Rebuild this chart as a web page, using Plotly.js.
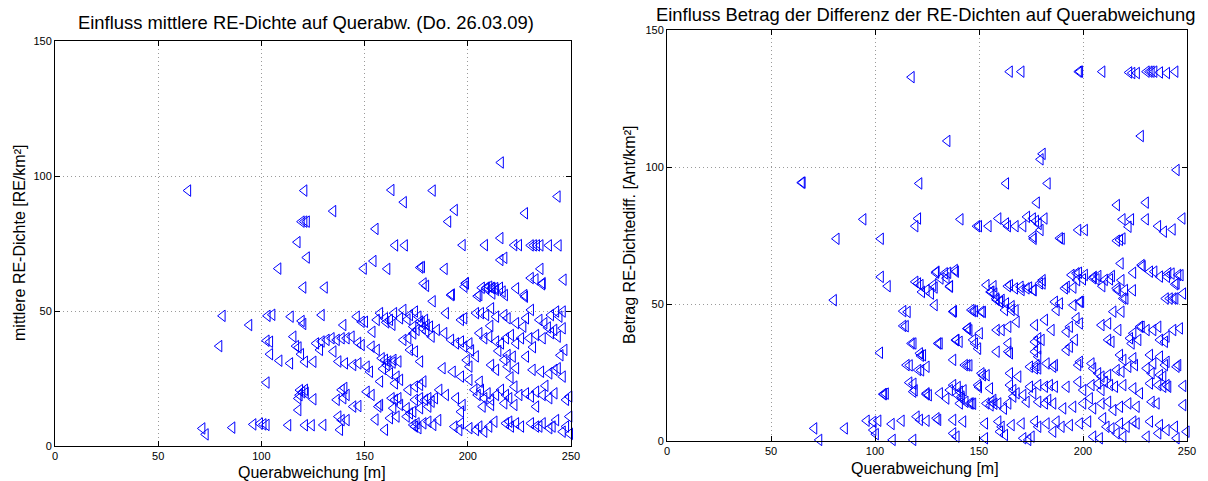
<!DOCTYPE html>
<html>
<head>
<meta charset="utf-8">
<script src="https://cdn.plot.ly/plotly-3.0.1.min.js"></script>
<style>
html,body{margin:0;padding:0;background:#fff;}
#chart{width:1208px;height:481px;}
</style>
</head>
<body>
<div id="chart"></div>
<script>
// ---------- DATA ----------
const xTicks = [0, 50, 100, 150, 200, 250];
const yTicks = [0, 50, 100, 150];

const titleLeft = "Einfluss mittlere RE-Dichte auf Querabw. (Do. 26.03.09)";
const titleRight = "Einfluss Betrag der Differenz der RE-Dichten auf Querabweichung";
const xLabel = "Querabweichung [m]";
const yLabelLeft = "mittlere RE-Dichte [RE/km²]";
const yLabelRight = "Betrag RE-Dichtediff. [Ant/km²]";

// Left chart: [Querabweichung, mittlere RE-Dichte]
const leftUpper = [[64.5,94.6],[216,105],[120.8,94.6],[163,94.8],[183,94.6],[243.5,92.4],[169,90.3],[134.8,87],[193.7,87.4],[227.7,86.2],[119.5,83.1],[120.8,83.1],[122,83.1],[190.5,83.1],[155.3,80.4],[117.5,75.5],[164.8,74.3],[169.5,74.3],[197.5,74.4],[208.3,74.4],[215.8,77],[222.5,74.4],[224.8,74.4],[230.5,74.3],[232,74.3],[233.5,74.3],[235.2,74.3],[239.3,74.3],[244,74.3],[122,69.8],[215.8,68.9],[217.7,69.7],[108.2,65.7],[149.6,65.7],[154.3,68.5],[161,65.6],[177,66.1],[177.8,66.3],[188.8,65.6],[235.2,65.6],[230.5,62.2],[232.8,61.7],[236,59.9],[246.4,61.6],[120.3,58.7],[130.7,58.7],[178.6,60.2],[179.8,59.3],[183,53.6],[192.3,56.1],[199,60.2],[198.4,59],[206.8,58.6],[209.2,58.7],[211.6,58.6],[213.3,58.5],[215.6,58.6],[218,55.9],[223.4,58.4],[227.7,55.3],[204.8,55.5],[211.9,56.5],[208.8,58.4],[236.3,60.3],[191.9,55.9],[205.6,55.9]];
const leftLowLeft = [[81.2,48.2],[94.1,44.8],[79.6,37],[103,48.2],[105.3,48.6],[114.2,47.9],[119.5,46.3],[120.3,45.2],[115.5,40.5],[116.8,37],[118,36.5],[102.5,39],[104.2,38.6],[104.2,34],[108.7,31.6],[113.9,30.6],[119.2,34],[121.1,31.2],[125.2,31.2],[102.5,23.5],[118.7,20.7],[121.5,19.7],[117.9,17.6],[125.2,17.3],[117.9,13.3],[71.4,6.5],[73,4.3],[85.9,6.8],[96.1,8],[99.3,8.3],[101,8],[102.5,7.8],[113,7.7],[121.1,7.7],[124.4,7.7]];
const leftLowMid = [[129.2,48.5],[139.7,44.8],[146.2,47.9],[148.6,46],[150.2,46],[157.5,49.2],[159.9,47.3],[162.3,46.7],[164.3,49.2],[167.2,47.3],[168.8,50.4],[155.9,46.7],[172,48.5],[174.4,49.8],[176.1,47.9],[176.9,46.1],[177.7,45.5],[179.3,46.7],[180.1,44.8],[181.7,44.2],[173.6,44.2],[175.2,43],[168.8,39.3],[171.2,39.9],[173.6,41.7],[182.5,40.5],[185,43],[126.5,38],[129.2,38.7],[131.6,39.3],[134,39.9],[136.5,39.3],[138.9,39.9],[141.3,39.9],[143.7,40.5],[128.4,35.6],[134.9,35],[148.6,37.4],[153.4,36.8],[155.9,35.6],[172,35.6],[174.4,35],[137.3,31.3],[140.5,30.6],[144.5,30],[147,30.6],[151,29.4],[152.6,27.5],[158.3,32.5],[159.9,31.9],[161.5,31.3],[164,31.9],[166.4,31.3],[160.7,30],[176.9,31.3],[162.3,26.9],[165.5,25.7],[167.2,24.5],[157.5,23.9],[164.7,23.2],[121.1,20.8],[138.9,20.8],[139.7,17.7],[141.3,18.9],[144.5,14.6],[147,14.8],[136.5,17.1],[151,20.1],[153.4,18.9],[157.5,15.2],[156.7,14.6],[163.1,17.7],[164.7,17.1],[166.4,17.7],[167.2,15.2],[163.9,14],[171.2,20.8],[174.4,22],[178.5,23.9],[176.9,22.6],[174.4,17.1],[176.9,17.7],[179.3,17.1],[180.9,17.7],[182.5,16.4],[184.1,17.7],[170.4,14],[173.6,12.7],[176.9,14],[180.9,14.6],[130,7.8],[137.3,10.9],[138.9,9.6],[138.1,6],[141.3,9.6],[159.9,6],[162.3,10.3],[165.5,10.9],[170.4,10.9],[172,12.1],[173.6,7.8],[174.4,7.2],[175.2,8.4],[176.1,6.6],[178.5,8.4],[180.9,9],[183.3,7.8],[185.7,9.6],[160.5,45.8],[163.5,44.9],[178.2,43.6],[179.9,42.4],[170.8,46.9],[153.8,42.3],[146.9,38.2],[158.9,28.6],[118.5,18.8],[119.8,19.9],[163.6,30.9],[140.2,21.5],[155.3,9.8]];
const leftLowRight = [[199.1,60.3],[210.4,59],[212,58.4],[213.7,57.8],[216.9,57.2],[227.4,55.9],[189.4,49.2],[196.7,46.7],[198.3,47.3],[204,49.2],[206.4,49.2],[208.9,48.5],[211.3,51],[213.7,47.9],[217.7,48.5],[219.3,47.3],[223.4,45.5],[228.2,47.3],[230.6,50.4],[234.7,46.7],[237.1,45.5],[240.3,48.5],[242.8,49.8],[244.4,47.9],[246,49.8],[188.6,41.8],[191.9,39.3],[194.3,38],[196.7,38.7],[198.3,36.8],[200.8,38],[205.6,41.8],[208,39.9],[210.4,40.5],[213.7,38.7],[216.1,38],[218.5,39.9],[220.9,41.1],[223.4,38],[225.8,39.9],[229.8,39.9],[233.1,41.1],[236.3,39.9],[240.3,41.8],[241.9,43],[243.6,40.5],[246,43.6],[246.8,35.6],[187.8,28.8],[192.7,27.5],[196.7,25.7],[200.8,24.5],[200.8,29.4],[211.3,30],[213.7,28.2],[217.7,31.9],[219.3,29.4],[223.4,28.8],[228.2,33.1],[231.4,28.2],[235.5,27.5],[239.5,26.9],[242,28.2],[243.6,28.8],[246,25.7],[221.8,33.1],[219.3,33.7],[186.2,20.8],[189.4,18.9],[194.3,17.7],[197.5,15.2],[196.7,12.7],[203.2,20.8],[204.8,18.9],[206.4,20.8],[208,17.7],[209.6,19.5],[211.3,17.1],[213.7,18.9],[216.1,20.8],[218.5,18.9],[220.1,17.7],[222.6,22],[225,18.9],[228.2,19.5],[230.6,18.3],[233.1,20.1],[236.3,18.9],[239.5,17.7],[242,19.5],[247.6,17.1],[249.2,18.3],[207.2,14.6],[211.3,15.2],[217.7,15.8],[222.6,15.2],[233.1,14.6],[193.5,7.2],[195.9,5.9],[196.7,8.4],[200.8,6.6],[204,5.9],[205.6,7.2],[208,5.3],[210.4,7.2],[212.9,9],[218.5,8.4],[220.1,9],[220.9,7.2],[223.4,8.4],[225.8,7.2],[230.6,8.4],[233.1,7.2],[234.7,7.2],[236.3,8.4],[239.5,6.6],[241.1,7.2],[242.8,9.6],[246,5.3],[247.6,7.2],[249.2,10.9],[249.5,4.5],[201.6,35.4],[203.9,33.2],[199.5,31.8],[214.8,35.2],[210.9,44.5],[226.9,44.2],[238.8,43.9],[231.6,36.6],[244.9,33.6],[220.7,25.4],[237.6,22.3],[205.8,23.8]];

// Right chart: [Querabweichung, Betrag RE-Dichtediff.]
const rightUpper = [[117.6,132.8],[164.8,134.8],[170.4,134.8],[198,134.8],[198.6,134.8],[209.3,134.8],[222.2,134.5],[223.7,134.3],[225.9,134.3],[230.6,134.8],[232,134.8],[233,134.8],[234.3,134.8],[237,134.5],[240.4,134.3],[244.4,134.8],[134.8,109.5],[227.8,111.3],[179.6,102.8],[180.6,104.8],[245,98.9],[64.8,94.3],[65.2,94.3],[121.3,94],[163,94],[183,94],[177.8,87],[216.3,86.1],[230.2,87],[94.4,80.9],[120.7,81.2],[119.4,78.4],[141.1,80.9],[149.1,78.4],[150,78.4],[154.6,78.4],[159.3,81.2],[163,79.4],[163.9,78.4],[167.6,78.4],[171.3,78.4],[173.1,81.8],[175.9,81.2],[177.4,80.3],[178.7,79.2],[179.6,77],[181.5,81.2],[176.3,73.8],[189.8,73.8],[200.9,77],[219,80.9],[223.1,80.9],[221.9,78.2],[216.3,73.1],[219,73.9],[230.2,80.9],[236.1,78.4],[238.9,76.4],[243.1,77.2],[247.8,81.2],[81.5,73.8],[102.8,73.8],[80.2,51.4],[218.1,64.8],[228.7,63.8],[224.1,61.4],[234.3,61.8],[240.4,59.9],[242.6,61.1],[246.9,60.5],[244.4,57.2],[248.1,53.8],[239.8,52],[241.7,52],[243.5,52],[244.4,52],[220.4,52]];
const rightMid = [[102.8,59.9],[106.1,56.5],[119.4,58.1],[120.7,57.5],[121.9,56.9],[122.6,54.4],[129.3,61.4],[131.5,59.3],[135.2,61.4],[138.9,61.8],[126.9,53.8],[128.7,56],[136.1,56.5],[128.7,49.6],[157,56.5],[155.6,54.4],[163.9,56.5],[170,56.3],[174.1,56],[176.3,55],[180.6,57.5],[180.6,58.7],[192.2,56.3],[195.4,56],[197.2,58.7],[200,59],[198.1,61.4],[205.2,59.9],[206.5,59],[207.4,60.2],[209.3,56.5],[213,59],[213.9,60.2],[216.7,55],[218.5,58.7],[219.4,52],[224,55],[157.4,53.8],[158.3,52],[160.2,50.8],[163,50.2],[165.7,49.2],[167.6,47.7],[188.9,50.2],[195.4,49.6],[199.1,50.8],[232.2,61.8],[237,60],[245.8,60.6],[245,57.5]];
const rightLowLeft = [[113.6,47.4],[113.6,42],[117.6,35.6],[122.1,31.1],[102.4,32.2],[115.2,27.7],[120.8,25.9],[116.5,21.3],[118.4,18],[124.8,17],[104,17.1],[104.4,17.1],[96,7.4],[99.2,7],[101.6,7.4],[108,6.2],[112.8,7.4],[120,8.9],[121.6,7.7],[124.8,7.4],[129.6,8.3],[70.8,4.6],[85.5,4.6],[99.2,4],[100.4,2.5],[73.2,0.4],[108.5,0.4],[118.4,0.4],[115.7,47.1],[114.8,41.9],[138,47.4],[147.2,47.4],[148.1,47.4],[151.9,47.1],[144.4,41],[145.4,40.4],[131.1,35.6],[138.9,36.8],[140.7,36.2],[148.1,35.6],[149.6,33.7],[118.5,35.6],[123.1,31.3],[116.7,27.6],[122.2,25.8],[144.4,27.6],[145.4,27.6],[151.9,24],[153.7,24],[139.8,19.7],[142.6,18.5],[150,19.7],[118.5,20.9],[119.1,18.5],[125.9,16.7],[105.2,17.3],[134.3,15.5],[139.8,16.7],[141.7,15.5],[143.5,14.3],[147.2,13.6],[155.6,13],[157.4,13.6],[162,11.8]];
const rightLowMain = [[176.1,74.6],[188.9,74],[197.7,77],[217.8,73.4],[228.2,64.2],[241,61.2],[129.6,61.8],[133.6,61.2],[138.4,62.4],[134.4,59.4],[136,56.3],[128,56.9],[124.8,55.1],[153.6,56.9],[156,54.5],[158.5,51.5],[160.9,51.5],[164.9,56.9],[167.3,55.7],[170.5,55.1],[172.9,55.7],[176.1,55.1],[179.3,57.5],[160.1,50.8],[162.5,47.8],[165.7,47.8],[186.5,50.8],[191.3,55.7],[198.5,50.8],[194.5,60.6],[196.9,61.2],[200.9,60.6],[204.9,59.4],[210.5,58.8],[216.2,55.7],[220.2,55.1],[214.6,47.2],[218.5,47.2],[217,40.5],[224.2,39.3],[227.4,41.7],[233.8,40.5],[236.2,41.7],[237,36.9],[239.4,36.2],[240.2,38.1],[243.4,40.5],[246.6,41.1],[137.6,47.2],[146.4,47.8],[151.2,47.2],[144.8,41.1],[150.4,39.3],[147.2,36.9],[139.2,36.9],[130.4,35.6],[158.5,40.5],[160.9,40.5],[164.1,41.7],[168.1,43.5],[176.9,42.3],[181.7,44.2],[184.9,40.5],[178.5,37.5],[180.1,36.9],[176.9,36.2],[164.1,35.6],[187.3,47.8],[192.1,39.9],[193.7,41.7],[196.9,44.8],[198.5,42.9],[196.1,36.9],[208.9,42.3],[212.1,42.9],[212.1,36.9],[213.7,36.2],[222.6,37.5],[223.4,35.6],[226.6,36.9],[228.2,41.7],[230.6,40.5],[158.5,32.6],[164.1,32.6],[164.9,32],[176.9,32.6],[178.5,30.8],[178.5,33.8],[182.5,28.3],[185.7,27.1],[192.1,33.2],[193.7,34.4],[197.7,27.7],[198.5,28.9],[217.8,31.4],[219.4,29.6],[224.2,30.2],[232.2,31.4],[237,30.8],[233.8,28.3],[240.2,28.9],[239.4,27.7],[245.8,27.7],[204.1,28.3],[204.9,26.5],[207.3,24.7],[208.9,23.5],[212.1,24.1],[216.2,25.9],[218.5,25.3],[221.8,27.1],[225,27.7],[230.6,26.5],[233,24.7],[237,24.1],[238.6,23.5],[240.2,20.4],[245,27.1],[124.8,27.1],[124.8,17.4],[121.6,32],[137.6,29.6],[143.2,27.7],[151.2,24.7],[164.9,24.7],[168.9,23.5],[176.9,26.5],[178.5,26.5],[177.7,27.7],[186.5,27.7],[174.5,27.1]];
const rightLowRows = [[137.6,20.4],[140.8,18],[141.6,16.2],[146.4,13.7],[156,14.3],[155.3,19.2],[149.6,20.4],[164.9,20.4],[166.5,18.6],[168.1,17.4],[174.5,19.8],[176.1,17.4],[178.5,20.4],[181.7,19.8],[184.1,20.4],[186.5,19.8],[192.1,19.8],[197.7,21.6],[200.1,18.6],[204.1,20.4],[207.3,21],[208.9,18.6],[210.5,21.6],[213,20.4],[215.4,19.8],[219.4,20.4],[224.2,19.2],[227.4,17.4],[232.2,21],[236.2,20.4],[238.6,19.8],[241,19.8],[248.2,20.1],[131.2,17.4],[136,18.6],[140.8,13.7],[145.6,13.7],[153.6,13.7],[156.9,15],[159.3,13.7],[164.1,13.7],[166.5,16.2],[171.3,16.8],[172.9,14.3],[178.5,14.3],[181.7,13.7],[183.3,15],[185.7,13.7],[190.5,11.9],[195.3,12.5],[200.1,13.7],[203.3,15.6],[204.9,11.9],[208.9,13.7],[212.1,14.3],[214.6,11.3],[217.8,12.5],[221.8,13.7],[225.8,12.5],[233,14.3],[235.4,13.7],[248.2,13.1],[130.4,7.7],[137.6,7.7],[142.4,7.1],[152.9,6.4],[159.3,7.1],[160.9,5.2],[165.7,5.8],[170.5,6.4],[176.9,7.1],[178.5,5.2],[182.5,6.4],[187.3,7.1],[189.7,5.2],[193.7,5.8],[198.5,6.4],[202.5,7.1],[209.7,8.3],[211.3,5.2],[213.7,4.6],[217.8,6.4],[221,5.2],[224.2,7.1],[225.8,6.4],[232.2,7.1],[237,5.8],[240.2,4],[244.2,5.2],[249.8,3.4],[137.6,2.8],[139.2,1.6],[152.9,1],[160.1,3.4],[162.5,2.2],[171.3,1],[173.7,0.4],[175.3,1.6],[185.7,3.4],[204.9,1.6],[208.1,1],[216.2,2.8],[219.4,1.6],[230.6,1.6],[236.2,2.8],[245,1]];

// ---------- BUILD ----------
const leftPts = [].concat(leftUpper, leftLowLeft, leftLowMid, leftLowRight);
const rightPts = [].concat(rightUpper, rightMid, rightLowLeft, rightLowMain, rightLowRows);

const FONT = "Liberation Sans, Arial, Helvetica, sans-serif";
const marker = {symbol: "triangle-left-open", size: 10, color: "#0000ff", line: {color: "#0000ff", width: 1}};

const traces = [
  {type: "scatter", mode: "markers", x: leftPts.map(p => p[0]), y: leftPts.map(p => p[1]),
   xaxis: "x", yaxis: "y", marker: marker, cliponaxis: false, hoverinfo: "x+y"},
  {type: "scatter", mode: "markers", x: rightPts.map(p => p[0]), y: rightPts.map(p => p[1]),
   xaxis: "x2", yaxis: "y2", marker: marker, cliponaxis: false, hoverinfo: "x+y"}
];

function axis(range, ticks, domain, anchor) {
  return {
    domain: domain, range: range, anchor: anchor,
    tickmode: "array", tickvals: ticks, ticktext: ticks.map(String),
    ticks: "inside", ticklen: 5, tickwidth: 1, tickcolor: "#000",
    showline: true, linecolor: "#000", linewidth: 1, mirror: "ticks",
    showgrid: true, gridcolor: "#9a9a9a", griddash: "1px,3px", gridwidth: 1,
    zeroline: false, fixedrange: true,
    tickfont: {family: FONT, size: 11, color: "#000"}
  };
}

const W = 1208, H = 481;
const px = v => v / W;
const py = v => (H - v) / H;

const layout = {
  width: W, height: H,
  margin: {l: 0, r: 0, t: 0, b: 0},
  paper_bgcolor: "#fff", plot_bgcolor: "#fff",
  showlegend: false,
  font: {family: FONT, color: "#000"},
  xaxis: axis([0, 250], xTicks, [px(55), px(571)], "y"),
  yaxis: axis([0, 150], yTicks, [py(446), py(41)], "x"),
  xaxis2: axis([0, 250], xTicks, [px(667), px(1187)], "y2"),
  yaxis2: axis([0, 150], yTicks, [py(441), py(30)], "x2"),
  annotations: [
    {text: titleLeft, xref: "paper", yref: "paper", x: px(306), y: py(23), xanchor: "center", yanchor: "middle", showarrow: false, font: {family: FONT, size: 18.4, color: "#000"}},
    {text: titleRight, xref: "paper", yref: "paper", x: px(925), y: py(14), xanchor: "center", yanchor: "middle", showarrow: false, font: {family: FONT, size: 18.4, color: "#000"}},
    {text: xLabel, xref: "paper", yref: "paper", x: px(312), y: py(472), xanchor: "center", yanchor: "middle", showarrow: false, font: {family: FONT, size: 16, color: "#000"}},
    {text: xLabel, xref: "paper", yref: "paper", x: px(925), y: py(468), xanchor: "center", yanchor: "middle", showarrow: false, font: {family: FONT, size: 16, color: "#000"}},
    {text: yLabelLeft, xref: "paper", yref: "paper", x: px(19), y: py(243), xanchor: "center", yanchor: "middle", textangle: -90, showarrow: false, font: {family: FONT, size: 16, color: "#000"}},
    {text: yLabelRight, xref: "paper", yref: "paper", x: px(629), y: py(235), xanchor: "center", yanchor: "middle", textangle: -90, showarrow: false, font: {family: FONT, size: 16, color: "#000"}}
  ]
};

Plotly.newPlot("chart", traces, layout, {displayModeBar: false, staticPlot: true});
</script>
</body>
</html>
